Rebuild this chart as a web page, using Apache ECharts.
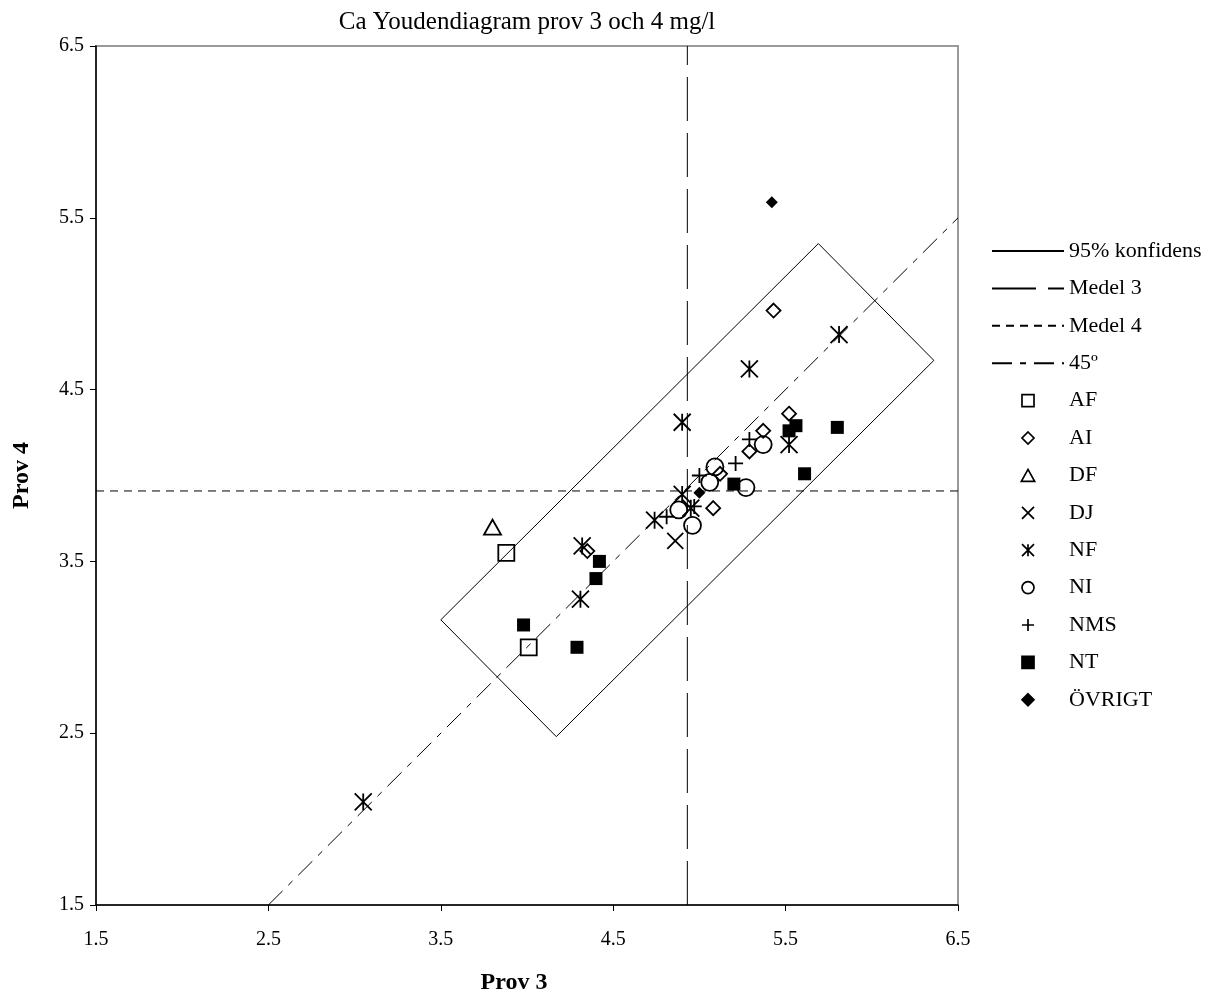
<!DOCTYPE html>
<html><head><meta charset="utf-8">
<script src="https://cdn.jsdelivr.net/npm/echarts@6/dist/echarts.min.js"></script>
<style>html,body{margin:0;padding:0;background:#fff}#c{width:1216px;height:998px}</style>
</head><body><div id="c"></div>
<script>
const titleText = 'Ca Youdendiagram prov 3 och 4 mg/l';
const xName = 'Prov 3';
const yName = 'Prov 4';
const xTicks = [1.5, 2.5, 3.5, 4.5, 5.5, 6.5];
const yTicks = [1.5, 2.5, 3.5, 4.5, 5.5, 6.5];

const confidence = [[3.50, 3.16], [5.69, 5.35], [6.36, 4.67], [4.17, 2.48], [3.50, 3.16]];
const medel3 = 4.93;
const medel4 = 3.91;
const line45 = [[2.5, 1.5], [6.5, 5.5]];

const AF = [[3.88, 3.55], [4.01, 3.00]];
const AI = [[5.43, 4.96], [5.52, 4.36], [5.37, 4.26], [5.29, 4.14], [5.12, 4.01], [5.08, 3.81], [4.35, 3.56]];
const DF = [[3.80, 3.70]];
const DJ = [[4.86, 3.62]];
const NF = [[3.05, 2.10], [4.31, 3.28], [4.32, 3.59], [4.74, 3.74], [4.90, 4.31], [4.90, 3.89], [4.95, 3.81], [5.29, 4.62], [5.52, 4.18], [5.81, 4.82]];
const NI = [[4.88, 3.80], [4.96, 3.71], [5.06, 3.96], [5.09, 4.05], [5.27, 3.93], [5.37, 4.18]];
const NMS = [[4.81, 3.76], [4.97, 3.82], [5.00, 4.00], [5.21, 4.07], [5.29, 4.21]];
const NT = [[3.98, 3.13], [4.29, 3.00], [4.40, 3.40], [4.42, 3.50], [5.20, 3.95], [5.52, 4.26], [5.56, 4.29], [5.61, 4.01], [5.80, 4.28]];
const OVRIGT = [[5.00, 3.90], [5.42, 5.59]];

const serif = 'Liberation Serif';
const chart = echarts.init(document.getElementById('c'), null, {renderer: 'canvas'});

function lineSeries(name, data, type) {
  return {
    name: name, type: 'line', data: data, symbol: 'none', silent: true,
    itemStyle: {color: 'rgba(0,0,0,0)', opacity: 0},
    lineStyle: {color: '#000', width: 1, type: type}, z: 1
  };
}
function openSeries(name, data, symbol, size) {
  return {
    name: name, type: 'scatter', data: data, symbol: symbol, symbolSize: size, silent: true,
    itemStyle: {color: 'rgba(0,0,0,0)', borderColor: '#000', borderWidth: 1.8, opacity: 1}, z: 3
  };
}
function filledSeries(name, data, symbol, size) {
  return {
    name: name, type: 'scatter', data: data, symbol: symbol, symbolSize: size, silent: true,
    itemStyle: {color: '#000', borderColor: '#000', borderWidth: 0, opacity: 1}, z: 4
  };
}

const RECT_PATH = 'path://M0,0L10,0L10,10L0,10Z';
const DIAMOND_PATH = 'path://M5,0L10,5L5,10L0,5Z';
const TRI_PATH = 'path://M5,0L10,9L0,9Z';
const X_PATH = 'path://M0,0L10,10M10,0L0,10';
const AST_PATH = 'path://M0,0L10,10M10,0L0,10M5,0L5,10';
const PLUS_PATH = 'path://M5,0L5,10M0,5L10,5';

const hideSym = {opacity: 0, color: 'rgba(0,0,0,0)', borderWidth: 0};

const option = {
  animation: false,
  backgroundColor: '#fff',
  title: {
    text: titleText, left: 522, top: 5, textAlign: 'center',
    textStyle: {fontFamily: serif, fontSize: 25, fontWeight: 'normal', color: '#000'}
  },
  grid: {
    left: 96, top: 46, right: 258, bottom: 93, containLabel: false, outerBoundsMode: 'none',
    show: true, borderColor: '#999', borderWidth: 2, backgroundColor: '#fff'
  },
  xAxis: {
    type: 'value', min: xTicks[0], max: xTicks[xTicks.length - 1], interval: xTicks[1] - xTicks[0],
    name: xName, nameLocation: 'middle', nameGap: 66,
    nameTextStyle: {fontFamily: serif, fontSize: 24, fontWeight: 'bold', color: '#000', padding: [0, 26, 0, 0]},
    axisLine: {lineStyle: {color: '#000', width: 1.5}},
    axisTick: {show: true, inside: false, length: 6, lineStyle: {color: '#000'}},
    axisLabel: {fontFamily: serif, fontSize: 20, color: '#000', margin: 25, formatter: v => v.toFixed(1)},
    splitLine: {show: false}
  },
  yAxis: {
    type: 'value', min: yTicks[0], max: yTicks[yTicks.length - 1], interval: yTicks[1] - yTicks[0],
    name: yName, nameLocation: 'middle', nameGap: 62, nameRotate: 90,
    nameTextStyle: {fontFamily: serif, fontSize: 24, fontWeight: 'bold', color: '#000'},
    axisLine: {lineStyle: {color: '#000', width: 1.5}},
    axisTick: {show: true, inside: false, length: 6, lineStyle: {color: '#000'}},
    axisLabel: {fontFamily: serif, fontSize: 20, color: '#000', margin: 12, formatter: v => v.toFixed(1)},
    splitLine: {show: false}
  },
  legend: {
    orient: 'vertical', left: 986, top: 235,
    itemWidth: 72, itemHeight: 12, itemGap: 15.4,
    textStyle: {fontFamily: serif, fontSize: 22, color: '#000', lineHeight: 22},
    itemStyle: {borderWidth: 1.7},
    selectedMode: false,
    data: [
      {name: '95% konfidens', itemStyle: hideSym},
      {name: 'Medel 3', itemStyle: hideSym},
      {name: 'Medel 4', itemStyle: hideSym},
      {name: '45º', itemStyle: hideSym},
      'AF', 'AI', 'DF', 'DJ', 'NF', 'NI', 'NMS', 'NT', 'ÖVRIGT'
    ]
  },
  series: [
    lineSeries('95% konfidens', confidence, 'solid'),
    lineSeries('Medel 3', [[medel3, yTicks[0]], [medel3, yTicks[yTicks.length - 1]]], [44, 12]),
    lineSeries('Medel 4', [[xTicks[0], medel4], [xTicks[xTicks.length - 1], medel4]], [8, 6]),
    lineSeries('45º', line45, [20, 8, 6, 8]),
    openSeries('AF', AF, RECT_PATH, 16),
    openSeries('AI', AI, DIAMOND_PATH, 14),
    openSeries('DF', DF, TRI_PATH, [17, 15]),
    openSeries('DJ', DJ, X_PATH, 16),
    openSeries('NF', NF, AST_PATH, 17),
    openSeries('NI', NI, 'circle', 17),
    openSeries('NMS', NMS, PLUS_PATH, 15),
    filledSeries('NT', NT, RECT_PATH, 13),
    filledSeries('ÖVRIGT', OVRIGT, DIAMOND_PATH, 12)
  ]
};
chart.setOption(option);
</script>
</body></html>
